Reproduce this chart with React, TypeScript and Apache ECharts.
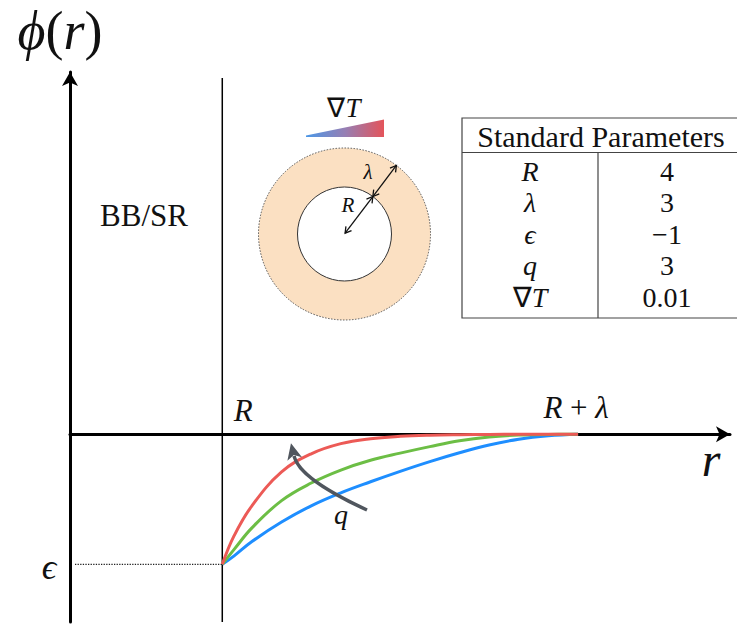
import React, { useEffect, useRef } from 'react';
import * as echarts from 'echarts';

// Radial coordinate samples between R and R + λ
const radius = [4.0, 4.1, 4.25, 4.5, 4.75, 5.0, 5.25, 5.5, 5.75, 6.0, 6.25, 6.5, 6.75, 7.0];
// φ(r) for three values of q (low → high)
const phiLowQ = [-1, -0.935, -0.825, -0.675, -0.55, -0.45, -0.365, -0.285, -0.21, -0.142, -0.082, -0.038, -0.012, 0];
const phiMidQ = [-1, -0.885, -0.72, -0.51, -0.375, -0.275, -0.2, -0.145, -0.095, -0.05, -0.021, -0.006, -0.001, 0];
const phiHighQ = [-1, -0.78, -0.55, -0.29, -0.15, -0.072, -0.034, -0.016, -0.007, -0.003, -0.001, 0, 0, 0];

// Standard parameters
const R_VALUE = 4;
const LAMBDA_VALUE = 3;
const EPSILON_VALUE = -1;
const paramSymbols = ['R', 'λ', 'ϵ', 'q', '∇T'];
const paramValues = ['4', '3', '−1', '3', '0.01'];
const tableTitle = 'Standard Parameters';

// Axis extents
const X_MIN = 2.716;
const X_MAX = 8.281;
const Y_MIN = -1.444;
const Y_MAX = 2.787;
const R_LINE_TOP = 2.74;
const DOTTED_START = 2.758;

const SERIF = 'Liberation Serif';
const INK = '#111';

// Split a formula string into italic letters and upright symbols (rich text)
function mathRich(s: string): string {
  return Array.from(s)
    .map((c) => (/[A-Za-zα-ωϵϕ]/.test(c) ? `{i|${c}}` : `{n|${c}}`))
    .join('');
}

function richStyles(size: number) {
  return {
    i: { fontFamily: SERIF, fontStyle: 'italic', fontSize: size, fill: INK },
    n: { fontFamily: SERIF, fontStyle: 'normal', fontSize: size, fill: INK },
  };
}

function richText(rich: string, x: number, y: number, size: number) {
  return {
    type: 'text',
    z: 10,
    style: {
      text: rich,
      rich: richStyles(size),
      fontFamily: SERIF,
      fontSize: size,
      fill: INK,
      x,
      y,
      align: 'center',
      verticalAlign: 'middle',
    },
  };
}

const mathText = (text: string, x: number, y: number, size: number) =>
  richText(mathRich(text), x, y, size);

function plainText(text: string, x: number, y: number, size: number) {
  return {
    type: 'text',
    z: 10,
    style: {
      text,
      x,
      y,
      fontFamily: SERIF,
      fontSize: size,
      fill: INK,
      align: 'center',
      verticalAlign: 'middle',
    },
  };
}

// Open chevron arrow head at (px, py) pointing along (dx, dy)
function chevron(px: number, py: number, dx: number, dy: number, len: number, half: number) {
  const n = Math.hypot(dx, dy);
  const ux = dx / n;
  const uy = dy / n;
  const nx = -uy;
  const ny = ux;
  return {
    type: 'polyline',
    silent: true,
    z: 12,
    shape: {
      points: [
        [px - ux * len + nx * half, py - uy * len + ny * half],
        [px, py],
        [px - ux * len - nx * half, py - uy * len - ny * half],
      ],
    },
    style: { stroke: INK, lineWidth: 1.3, fill: 'none' },
  };
}

export default function App() {
  const ref = useRef<HTMLDivElement>(null);

  useEffect(() => {
    const el = ref.current;
    if (!el) return;
    const chart = echarts.init(el, null, { renderer: 'svg' });

    const pairs = (ys: number[]) => radius.map((r, i) => [r, ys[i]]);
    const curve = (name: string, ys: number[], color: string, z: number) => ({
      type: 'line',
      name,
      data: pairs(ys),
      showSymbol: false,
      smooth: 0.4,
      silent: true,
      z,
      lineStyle: { color, width: 3 },
      itemStyle: { color },
    });
    const guide = (name: string, data: number[][], color: string, width: number, type: string) => ({
      type: 'line',
      name,
      data,
      showSymbol: false,
      silent: true,
      z: 2,
      lineStyle: { color, width, type },
      itemStyle: { color },
    });

    const axisCommon = {
      type: 'value',
      axisTick: { show: false },
      axisLabel: { show: false },
      splitLine: { show: false },
      axisLine: {
        show: true,
        onZero: true,
        symbol: ['none', 'arrow'],
        symbolSize: [12, 14],
        lineStyle: { color: '#000', width: 3 },
      },
    };

    chart.setOption({
      animation: false,
      textStyle: { fontFamily: SERIF },
      grid: { left: 70, top: 72, width: 660, height: 550 },
      xAxis: { ...axisCommon, min: X_MIN, max: X_MAX },
      yAxis: { ...axisCommon, min: Y_MIN, max: Y_MAX },
      series: [
        guide('R line', [[R_VALUE, R_LINE_TOP], [R_VALUE, Y_MIN]], '#000', 1.5, 'solid'),
        guide('epsilon level', [[DOTTED_START, EPSILON_VALUE], [R_VALUE, EPSILON_VALUE]], '#222', 1.3, 'dotted'),
        curve('low q', phiLowQ, '#1E8EFF', 3),
        curve('mid q', phiMidQ, '#6CBE45', 4),
        curve('high q', phiHighQ, '#EC5A56', 5),
      ],
    });

    const px = (x: number, y: number) => chart.convertToPixel({ gridIndex: 0 }, [x, y]) as number[];
    const pR = px(R_VALUE, 0);
    const pRL = px(R_VALUE + LAMBDA_VALUE, 0);
    const pEps = px(X_MIN, EPSILON_VALUE);

    const elements: any[] = [];

    // Axis and marker labels
    elements.push(mathText('ϕ(r)', 60, 31, 54));
    elements.push(mathText('r', 711, 459, 48));
    elements.push(mathText('R', pR[0] + 21, pR[1] - 24, 31));
    elements.push(richText('{i|R}{n| + }{i|λ}', pRL[0] - 2, pRL[1] - 27, 31));
    elements.push(mathText('ϵ', pEps[0] - 21, pEps[1] + 3, 36));
    elements.push(plainText('BB/SR', 144, 215, 31));

    // q arrow
    const P0 = [367, 510];
    const C = [299.5, 479];
    const P2 = [294, 456];
    const dx = P2[0] - C[0];
    const dy = P2[1] - C[1];
    const dl = Math.hypot(dx, dy);
    const ux = dx / dl;
    const uy = dy / dl;
    const nx = -uy;
    const ny = ux;
    const tip = [P2[0] + ux * 13, P2[1] + uy * 13];
    elements.push({
      type: 'bezierCurve',
      silent: true,
      z: 8,
      shape: { x1: P0[0], y1: P0[1], cpx1: C[0], cpy1: C[1], x2: P2[0], y2: P2[1] },
      style: { stroke: '#50565E', lineWidth: 3.5, fill: 'none' },
    });
    elements.push({
      type: 'polygon',
      silent: true,
      z: 9,
      shape: {
        points: [
          tip,
          [P2[0] - ux * 3 + nx * 7.5, P2[1] - uy * 3 + ny * 7.5],
          [P2[0] + ux * 1, P2[1] + uy * 1],
          [P2[0] - ux * 3 - nx * 7.5, P2[1] - uy * 3 - ny * 7.5],
        ],
      },
      style: { fill: '#50565E' },
    });
    elements.push(mathText('q', 341, 514, 28));

    // Annulus sketch
    const cx = 344.5;
    const cy = 234;
    const rOuter = 86;
    const rInner = 47;
    elements.push({
      type: 'circle',
      silent: true,
      z: 5,
      shape: { cx, cy, r: rOuter },
      style: { fill: '#FBE0C2', stroke: '#555', lineWidth: 1, lineDash: [1.5, 1.5] },
    });
    elements.push({
      type: 'circle',
      silent: true,
      z: 6,
      shape: { cx, cy, r: rInner },
      style: { fill: '#fff', stroke: '#333', lineWidth: 1 },
    });
    const ang = Math.atan2(-37, 28);
    const ax = Math.cos(ang);
    const ay = Math.sin(ang);
    const pIn = [cx + ax * rInner, cy + ay * rInner];
    const pOut = [cx + ax * rOuter, cy + ay * rOuter];
    const pCen = [cx + ax * 1, cy + ay * 1];
    elements.push({
      type: 'line',
      silent: true,
      z: 11,
      shape: { x1: pCen[0], y1: pCen[1], x2: pIn[0], y2: pIn[1] },
      style: { stroke: INK, lineWidth: 1.3 },
    });
    elements.push({
      type: 'line',
      silent: true,
      z: 11,
      shape: { x1: pIn[0], y1: pIn[1], x2: pOut[0], y2: pOut[1] },
      style: { stroke: INK, lineWidth: 1.3 },
    });
    elements.push(chevron(pCen[0], pCen[1], -ax, -ay, 6, 3.5));
    elements.push(chevron(pIn[0], pIn[1], ax, ay, 6, 3.5));
    elements.push(chevron(pIn[0], pIn[1], -ax, -ay, 6, 3.5));
    elements.push(chevron(pOut[0], pOut[1], ax, ay, 6, 3.5));
    elements.push(mathText('R', 348, 205, 21));
    elements.push(mathText('λ', 368, 172, 21));

    // Temperature gradient wedge
    elements.push({
      type: 'polygon',
      silent: true,
      z: 5,
      shape: { points: [[306, 135.5], [384, 119.5], [384, 137], [306, 137]] },
      style: {
        fill: new echarts.graphic.LinearGradient(0, 0, 1, 0, [
          { offset: 0, color: '#4C97E6' },
          { offset: 0.5, color: '#967FB4' },
          { offset: 1, color: '#E4545A' },
        ]),
      },
    });
    elements.push(mathText('∇T', 344, 108, 27));

    // Parameter table
    const tLeft = 462;
    const tTop = 118;
    const tRight = 742;
    const tBottom = 318;
    const headerLine = 152.5;
    const colDivider = 598;
    const lineStyle = { stroke: '#444', lineWidth: 1.2 };
    elements.push({
      type: 'rect',
      silent: true,
      z: 5,
      shape: { x: tLeft, y: tTop, width: tRight - tLeft, height: tBottom - tTop },
      style: { fill: '#fff', ...lineStyle },
    });
    elements.push({
      type: 'line',
      silent: true,
      z: 6,
      shape: { x1: tLeft, y1: headerLine, x2: tRight, y2: headerLine },
      style: lineStyle,
    });
    elements.push({
      type: 'line',
      silent: true,
      z: 6,
      shape: { x1: colDivider, y1: headerLine, x2: colDivider, y2: tBottom },
      style: lineStyle,
    });
    elements.push(plainText(tableTitle, 601, 136, 30));
    const rowTop = 171;
    const rowStep = 31.5;
    paramSymbols.forEach((s, i) => {
      const y = rowTop + i * rowStep;
      elements.push(mathText(s, 530, y, 28));
      elements.push(plainText(paramValues[i], 667, y, 28));
    });

    chart.setOption({ graphic: { elements } });

    return () => chart.dispose();
  }, []);

  return (
    <div
      ref={ref}
      style={{ position: 'fixed', left: 0, top: 0, width: 737, height: 628, background: '#fff' }}
    />
  );
}
